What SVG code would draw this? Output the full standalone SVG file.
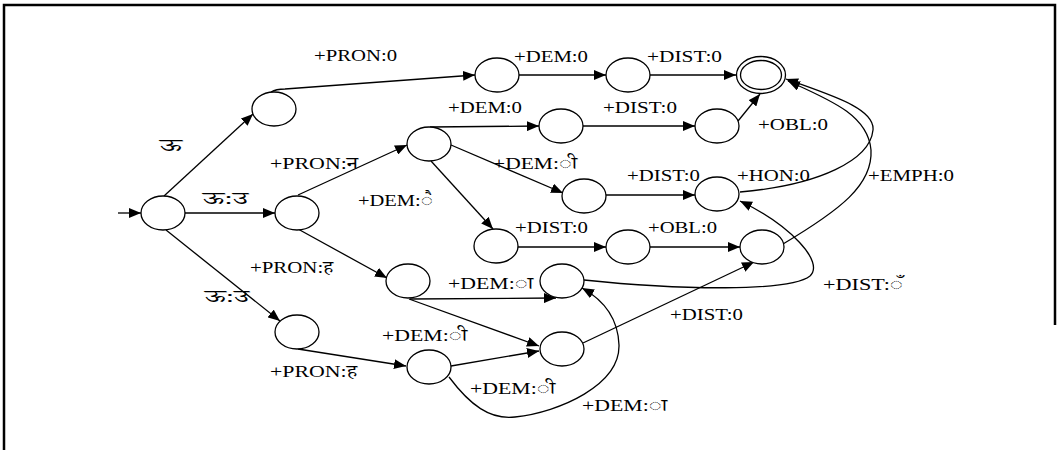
<svg xmlns="http://www.w3.org/2000/svg" width="1060" height="450" viewBox="0 0 1060 450">
  <style>
    .frame { stroke: #000; stroke-width: 2.5; fill: none; }
    .state { fill: #fff; stroke: #000; stroke-width: 1.3; }
    .edge { fill: none; stroke: #000; stroke-width: 1.3; marker-end: url(#arrow); }
    .lbl { font-family: "Liberation Serif", "Noto Serif Devanagari", "Noto Sans Devanagari", "Lohit Devanagari", "FreeSerif", serif; font-size: 17px; fill: #000; }
  </style>
  <defs>
    <marker id="arrow" markerUnits="userSpaceOnUse" markerWidth="13" markerHeight="10" refX="12" refY="5" orient="auto">
      <path d="M0,0 L12,5 L0,10 z" fill="#000"/>
    </marker>
  </defs>

  <rect width="1060" height="450" fill="#fff"/>

  <!-- figure frame -->
  <g id="frame">
    <path class="frame" d="M4,450 L4,5 L1055,5 L1055,325"/>
  </g>

  <!-- transitions -->
  <g id="connectors">
    <path class="edge" d="M118,213 L141,213"/>
    <path class="edge" d="M164,196 L253,114"/>
    <path class="edge" d="M185,213 L275,213"/>
    <path class="edge" d="M166,230 L280,321"/>
    <path class="edge" d="M271,92 Q276,89 285,89 L475,75"/>
    <path class="edge" d="M519,75 L606,75"/>
    <path class="edge" d="M650,75 L736,75"/>
    <path class="edge" d="M298,195 L407,145"/>
    <path class="edge" d="M430,127 L539,126"/>
    <path class="edge" d="M583,126 L695,126"/>
    <path class="edge" d="M738,121 L760,94"/>
    <path class="edge" d="M451,145 L563,193"/>
    <path class="edge" d="M431,161 L493,229"/>
    <path class="edge" d="M606,195 L695,195"/>
    <path class="edge" d="M740,192 C820,185 870,160 873,130 C875,108 830,95 786,79"/>
    <path class="edge" d="M783,244 C840,210 873,185 871,150 C868,115 830,100 788,81"/>
    <path class="edge" d="M518,247 L606,247"/>
    <path class="edge" d="M650,247 L740,247"/>
    <path class="edge" d="M298,229 L387,278"/>
    <path class="edge" d="M410,299 L556,298"/>
    <path class="edge" d="M409,299 L539,346"/>
    <path class="edge" d="M298,349 L406,366"/>
    <path class="edge" d="M451,366 L539,351"/>
    <path class="edge" d="M449,377 C470,405 490,420 515,417 C560,412 620,385 619,345 C618,315 600,298 582,288"/>
    <path class="edge" d="M583,343 L754,262"/>
    <path class="edge" d="M584,280 C680,290 790,292 810,276 C825,262 790,225 740,201"/>
  </g>

  <!-- states -->
  <g id="s0"><ellipse class="state" cx="163" cy="213" rx="22" ry="17"/></g>
  <g id="s1"><ellipse class="state" cx="274" cy="109" rx="22" ry="17"/></g>
  <g id="s2"><ellipse class="state" cx="297" cy="213" rx="22" ry="17"/></g>
  <g id="s3"><ellipse class="state" cx="297" cy="332" rx="22" ry="17"/></g>
  <g id="s4"><ellipse class="state" cx="497" cy="75" rx="22" ry="17"/></g>
  <g id="s5"><ellipse class="state" cx="628" cy="75" rx="22" ry="17"/></g>
  <g id="final">
    <ellipse class="state" cx="761" cy="75" rx="24.5" ry="18.5"/>
    <ellipse class="state" cx="761" cy="75" rx="20.5" ry="14.5"/>
  </g>
  <g id="s6"><ellipse class="state" cx="429" cy="144" rx="22" ry="17"/></g>
  <g id="s7"><ellipse class="state" cx="561" cy="126" rx="22" ry="17"/></g>
  <g id="s8"><ellipse class="state" cx="717" cy="126" rx="22" ry="17"/></g>
  <g id="s9"><ellipse class="state" cx="584" cy="196" rx="22" ry="17"/></g>
  <g id="s10"><ellipse class="state" cx="717" cy="194" rx="22" ry="17"/></g>
  <g id="s11"><ellipse class="state" cx="496" cy="246" rx="22" ry="17"/></g>
  <g id="s12"><ellipse class="state" cx="628" cy="247" rx="22" ry="17"/></g>
  <g id="s13"><ellipse class="state" cx="762" cy="247" rx="22" ry="17"/></g>
  <g id="s14"><ellipse class="state" cx="408" cy="281" rx="22" ry="17"/></g>
  <g id="s15"><ellipse class="state" cx="562" cy="281" rx="22" ry="17"/></g>
  <g id="s16"><ellipse class="state" cx="429" cy="367" rx="22" ry="17"/></g>
  <g id="s17"><ellipse class="state" cx="562" cy="349" rx="22" ry="17"/></g>

  <!-- transition labels -->
  <g id="labels">
    <text class="lbl" x="314" y="61" textLength="83" lengthAdjust="spacingAndGlyphs">+PRON:0</text>
    <text class="lbl" x="514" y="62" textLength="74" lengthAdjust="spacingAndGlyphs">+DEM:0</text>
    <text class="lbl" x="647" y="62" textLength="75" lengthAdjust="spacingAndGlyphs">+DIST:0</text>
    <text class="lbl" x="448" y="113" textLength="74" lengthAdjust="spacingAndGlyphs">+DEM:0</text>
    <text class="lbl" x="603" y="113" textLength="74" lengthAdjust="spacingAndGlyphs">+DIST:0</text>
    <text class="lbl" x="758" y="130" textLength="70" lengthAdjust="spacingAndGlyphs">+OBL:0</text>
    <text class="lbl" x="160" y="151" textLength="22" lengthAdjust="spacingAndGlyphs">ऊ</text>
    <text class="lbl" x="270" y="169" textLength="88" lengthAdjust="spacingAndGlyphs">+PRON:न</text>
    <text class="lbl" x="493" y="169" textLength="84" lengthAdjust="spacingAndGlyphs">+DEM:ी</text>
    <text class="lbl" x="627" y="181" textLength="73" lengthAdjust="spacingAndGlyphs">+DIST:0</text>
    <text class="lbl" x="737" y="181" textLength="73" lengthAdjust="spacingAndGlyphs">+HON:0</text>
    <text class="lbl" x="868" y="181" textLength="86" lengthAdjust="spacingAndGlyphs">+EMPH:0</text>
    <text class="lbl" x="203" y="204" textLength="45" lengthAdjust="spacingAndGlyphs">ऊ:उ</text>
    <text class="lbl" x="358" y="206" textLength="75" lengthAdjust="spacingAndGlyphs">+DEM:ै</text>
    <text class="lbl" x="515" y="233" textLength="73" lengthAdjust="spacingAndGlyphs">+DIST:0</text>
    <text class="lbl" x="648" y="233" textLength="69" lengthAdjust="spacingAndGlyphs">+OBL:0</text>
    <text class="lbl" x="250" y="273" textLength="83" lengthAdjust="spacingAndGlyphs">+PRON:ह</text>
    <text class="lbl" x="448" y="289" textLength="85" lengthAdjust="spacingAndGlyphs">+DEM:ा</text>
    <text class="lbl" x="823" y="290" textLength="80" lengthAdjust="spacingAndGlyphs">+DIST:ँ</text>
    <text class="lbl" x="205" y="302" textLength="44" lengthAdjust="spacingAndGlyphs">ऊ:उ</text>
    <text class="lbl" x="670" y="320" textLength="73" lengthAdjust="spacingAndGlyphs">+DIST:0</text>
    <text class="lbl" x="382" y="341" textLength="85" lengthAdjust="spacingAndGlyphs">+DEM:ी</text>
    <text class="lbl" x="270" y="377" textLength="87" lengthAdjust="spacingAndGlyphs">+PRON:ह</text>
    <text class="lbl" x="470" y="394" textLength="85" lengthAdjust="spacingAndGlyphs">+DEM:ी</text>
    <text class="lbl" x="582" y="411" textLength="85" lengthAdjust="spacingAndGlyphs">+DEM:ा</text>
  </g>
</svg>
